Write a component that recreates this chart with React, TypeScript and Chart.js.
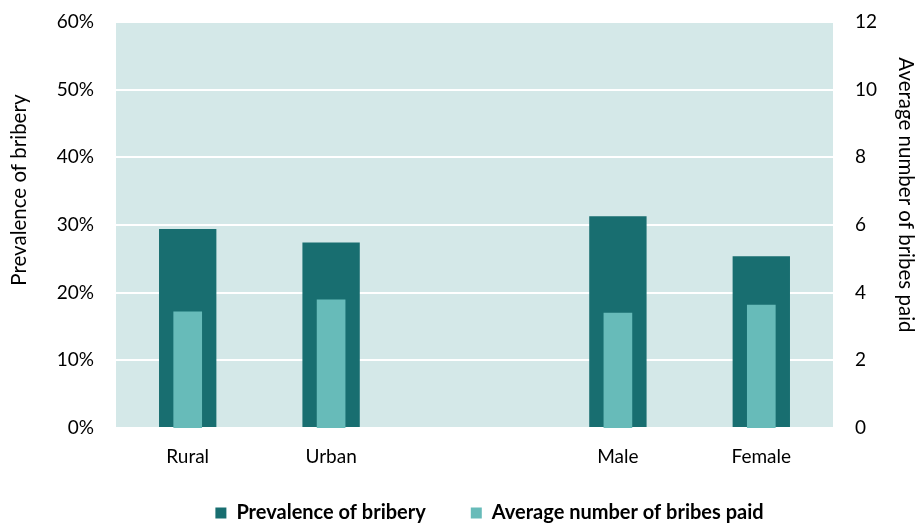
import React, { useEffect, useRef } from "react";
import { Chart, registerables } from "chart.js";

Chart.register(...registerables);

const categories = ["Rural", "Urban", "", "Male", "Female"];
const prevalence = [29.4, 27.4, null, 31.3, 25.4];
const avgBribes = [3.44, 3.8, null, 3.41, 3.64];
const leftTicks = [0, 10, 20, 30, 40, 50, 60];
const rightTicks = [0, 2, 4, 6, 8, 10, 12];
const leftTitle = "Prevalence of bribery";
const rightTitle = "Average number of bribes paid";

const DARK = "#186e70";
const LIGHT = "#67bbb9";
const BG = "#d4e8e8";
const FONT = "Lato, 'Noto Sans', sans-serif";

const bgPlugin = {
  id: "plotBg",
  afterLayout(chart: any) {
    const lg = chart.legend;
    if (lg) {
      lg.left += 15;
      lg.right += 15;
      lg.top -= 10;
      lg.bottom -= 10;
    }
  },
  beforeDraw(chart: any) {
    const { ctx, chartArea } = chart;
    if (!chartArea) return;
    ctx.save();
    ctx.fillStyle = BG;
    ctx.fillRect(chartArea.left, chartArea.top, chartArea.right - chartArea.left, chartArea.bottom - chartArea.top);
    ctx.restore();
  },
  afterDraw(chart: any) {
    const { ctx, chartArea } = chart;
    const h = chartArea.bottom - chartArea.top;
    ctx.save();
    ctx.fillStyle = "#000";
    ctx.font = `20.5px ${FONT}`;
    ctx.textAlign = "center";
    ctx.textBaseline = "middle";
    ctx.save();
    ctx.translate(chart.scales.y.left + 19, chartArea.top + h * 0.414);
    ctx.rotate(-Math.PI / 2);
    ctx.fillText(leftTitle, 0, 0);
    ctx.restore();
    ctx.save();
    ctx.translate(chart.scales.y2.right - 12.5, chartArea.top + h * 0.426);
    ctx.rotate(Math.PI / 2);
    ctx.fillText(rightTitle, 0, 0);
    ctx.restore();
    ctx.restore();
  },
};

export default function App() {
  const ref = useRef<HTMLCanvasElement>(null);
  useEffect(() => {
    document.body.style.margin = "0";
    const chart = new Chart(ref.current as HTMLCanvasElement, {
      type: "bar",
      data: {
        labels: categories,
        datasets: [
          {
            label: "Prevalence of bribery",
            data: prevalence,
            backgroundColor: DARK,
            yAxisID: "y",
            barPercentage: 0.4,
            categoryPercentage: 1,
            grouped: false,
            order: 1,
          } as any,
          {
            label: "Average number of bribes paid",
            data: avgBribes,
            backgroundColor: LIGHT,
            yAxisID: "y2",
            barPercentage: 0.2,
            categoryPercentage: 1,
            grouped: false,
            order: 0,
          } as any,
        ],
      },
      options: {
        animation: false,
        responsive: false,
        maintainAspectRatio: false,
        layout: { padding: { top: 22, left: 0, right: 0, bottom: -18 } },
        plugins: {
          tooltip: { enabled: false },
          legend: {
            position: "bottom",
            fullSize: false,
            labels: {
              boxWidth: 11,
              boxHeight: 11,
              padding: 45,
              color: "#000",
              font: { family: FONT, size: 20, weight: "bold" },
              sort: (a: any, b: any) => a.datasetIndex - b.datasetIndex,
            },
          },
        },
        scales: {
          x: {
            grid: { display: false, drawTicks: false },
            border: { display: false },
            ticks: { color: "#000", font: { family: FONT, size: 19 }, padding: 17, maxRotation: 0 },
            afterFit(scale: any) {
              scale.height = 40;
            },
          },
          y: {
            position: "left",
            min: 0,
            max: 60,
            afterBuildTicks(scale: any) {
              scale.ticks = leftTicks.map((v) => ({ value: v }));
            },
            grid: { color: "#ffffff", lineWidth: 2, drawTicks: false },
            border: { display: false },
            ticks: {
              color: "#000",
              font: { family: FONT, size: 19 },
              padding: 22,
              callback: (v: any) => v + "%",
            },
            afterFit(scale: any) {
              scale.width = 116;
              scale.paddingTop = 0;
              scale.paddingBottom = 0;
            },
          },
          y2: {
            position: "right",
            min: 0,
            max: 12,
            afterBuildTicks(scale: any) {
              scale.ticks = rightTicks.map((v) => ({ value: v }));
            },
            grid: { display: false, drawTicks: false },
            border: { display: false },
            ticks: {
              color: "#000",
              font: { family: FONT, size: 19 },
              padding: 22,
            },
            afterFit(scale: any) {
              scale.width = 85;
              scale.paddingTop = 0;
              scale.paddingBottom = 0;
            },
          },
        },
      } as any,
      plugins: [bgPlugin],
    });
    return () => chart.destroy();
  }, []);
  return (
    <div style={{ width: 918, height: 525 }}>
      <canvas ref={ref} width={918} height={525} style={{ display: "block" }} />
    </div>
  );
}
